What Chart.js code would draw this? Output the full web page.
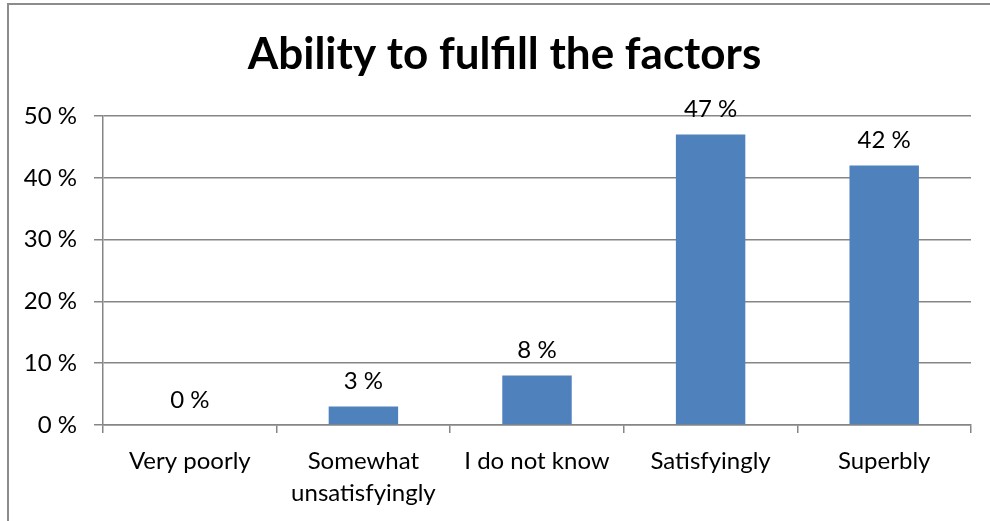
<!DOCTYPE html>
<html>
<head>
<meta charset="utf-8">
<script src="https://cdn.jsdelivr.net/npm/chart.js@4/dist/chart.umd.min.js"></script>
<style>
  html, body { margin: 0; padding: 0; background: #fff; }
  #wrap { width: 990px; height: 521px; position: relative; }
</style>
</head>
<body>
<div id="wrap"><canvas id="c" width="990" height="521"></canvas></div>
<script>
const categories = ['Very poorly', ['Somewhat', 'unsatisfyingly'], 'I do not know', 'Satisfyingly', 'Superbly'];
const values = [0, 3, 8, 47, 42];
const yTicks = [0, 10, 20, 30, 40, 50];
const chartTitle = 'Ability to fulfill the factors';

const FONT = 'Lato, "Open Sans", sans-serif';
const GRID = '#868686';

// outer frame (top and left edges only, like the picture)
const framePlugin = {
  id: 'frame',
  beforeDraw(chart) {
    const ctx = chart.ctx;
    ctx.save();
    ctx.strokeStyle = '#8c8c8c';
    ctx.lineWidth = 2;
    ctx.beginPath();
    ctx.moveTo(8, 521);
    ctx.lineTo(8, 4);
    ctx.lineTo(990, 4);
    ctx.stroke();
    ctx.restore();
  }
};

// value labels above each bar
const barLabels = {
  id: 'barLabels',
  afterDatasetsDraw(chart) {
    const ctx = chart.ctx;
    const meta = chart.getDatasetMeta(0);
    ctx.save();
    ctx.font = '24px ' + FONT;
    ctx.fillStyle = '#000';
    ctx.textAlign = 'center';
    ctx.textBaseline = 'middle';
    meta.data.forEach((bar, i) => {
      ctx.fillText(values[i] + ' %', bar.x, bar.y - 25);
    });
    ctx.restore();
  }
};

new Chart(document.getElementById('c'), {
  type: 'bar',
  data: {
    labels: categories,
    datasets: [{
      data: values,
      backgroundColor: '#4F81BD',
      borderWidth: 0,
      barPercentage: 0.4,
      categoryPercentage: 1
    }]
  },
  options: {
    responsive: false,
    animation: false,
    layout: { padding: { left: 19, right: 0, top: 0, bottom: 0 } },
    plugins: {
      legend: { display: false },
      tooltip: { enabled: false },
      title: {
        display: true,
        text: chartTitle,
        color: '#000',
        font: { family: FONT, size: 44, weight: 'bold', lineHeight: 1.2 },
        padding: { top: 28.6, bottom: 34.6 }
      }
    },
    scales: {
      x: {
        offset: true,
        grid: {
          offset: true,
          drawOnChartArea: false,
          drawTicks: true,
          tickLength: 8,
          color: GRID,
          lineWidth: 1.5
        },
        border: { color: GRID, width: 1.5 },
        ticks: {
          color: '#000',
          font: { family: FONT, size: 24, lineHeight: 1.33 },
          padding: 12,
          maxRotation: 0,
          autoSkip: false
        },
        afterFit(scale) { scale.height = 96; }
      },
      y: {
        min: 0,
        max: 50,
        afterBuildTicks(scale) { scale.ticks = yTicks.map(v => ({ value: v })); },
        grid: { color: GRID, lineWidth: 1.5, tickLength: 9 },
        border: { color: GRID, width: 1.5 },
        ticks: {
          color: '#000',
          font: { family: FONT, size: 24 },
          padding: 17,
          callback: v => v + ' %'
        },
        afterFit(scale) { scale.width = 84; }
      },
      // empty spacer on the right so the plot ends where the picture's does
      yRight: {
        position: 'right',
        min: 0,
        max: 50,
        grid: { display: false, drawTicks: false },
        border: { display: false },
        ticks: { display: false },
        afterFit(scale) { scale.width = 19; }
      }
    }
  },
  plugins: [framePlugin, barLabels]
});
</script>
</body>
</html>
